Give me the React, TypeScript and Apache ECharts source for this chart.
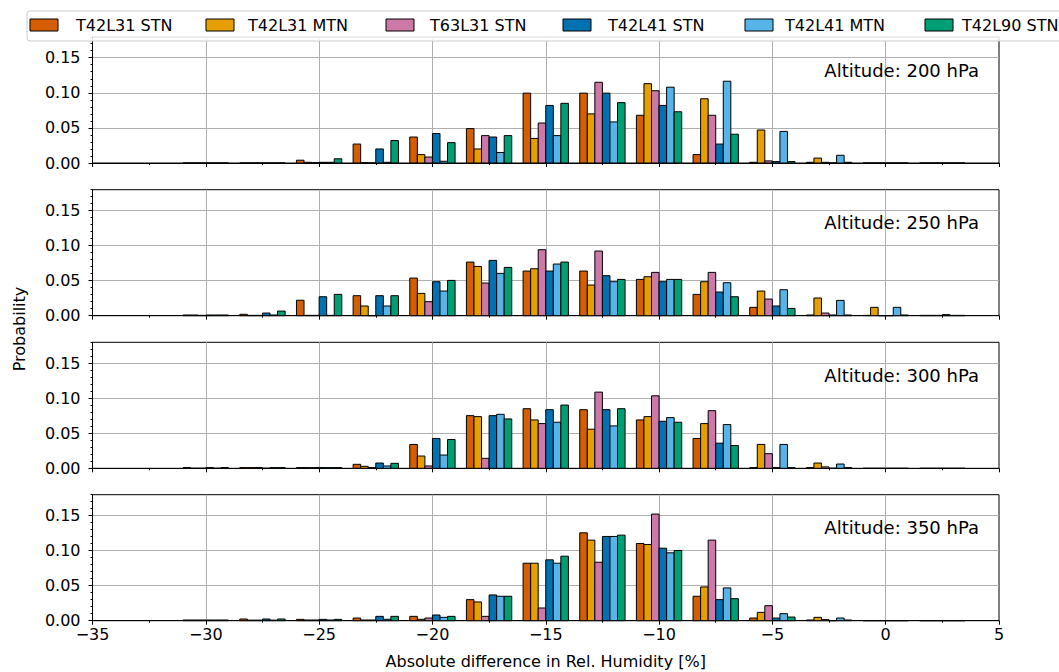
import React, { useEffect, useRef } from 'react';
import * as echarts from 'echarts';

// ---- data ----
const binCenters = [-30, -27.5, -25, -22.5, -20, -17.5, -15, -12.5, -10, -7.5, -5, -2.5, 0, 2.5];
const seriesNames = ['T42L31 STN', 'T42L31 MTN', 'T63L31 STN', 'T42L41 STN', 'T42L41 MTN', 'T42L90 STN'];
const seriesColors = ['#D55E00', '#E69F00', '#CC79A7', '#0072B2', '#56B4E9', '#009E73'];
const altitudeLabels = ['Altitude: 200 hPa', 'Altitude: 250 hPa', 'Altitude: 300 hPa', 'Altitude: 350 hPa'];
const xTickValues = [-35, -30, -25, -20, -15, -10, -5, 0, 5];
const yTickValues = [0, 0.05, 0.1, 0.15];

// 200 hPa
const p200_T42L31_STN = [0, 0, 0.004, 0.027, 0.037, 0.049, 0.0995, 0.0995, 0.068, 0.012, 0.001, 0.001, 0, 0];
const p200_T42L31_MTN = [0, 0, 0.001, 0.0005, 0.012, 0.020, 0.035, 0.070, 0.113, 0.0915, 0.047, 0.007, 0, 0];
const p200_T63L31_STN = [0, 0, 0.0005, 0, 0.0085, 0.039, 0.057, 0.115, 0.103, 0.068, 0.003, 0.001, 0, 0];
const p200_T42L41_STN = [0, 0, 0.001, 0.020, 0.042, 0.037, 0.082, 0.0995, 0.082, 0.027, 0.002, 0, 0, 0];
const p200_T42L41_MTN = [0, 0, 0.001, 0.001, 0.0025, 0.015, 0.039, 0.0585, 0.108, 0.1165, 0.045, 0.011, 0, 0];
const p200_T42L90_STN = [0, 0, 0.006, 0.032, 0.029, 0.039, 0.085, 0.086, 0.073, 0.041, 0.002, 0.001, 0, 0];

// 250 hPa
const p250_T42L31_STN = [0.001, 0.002, 0.022, 0.0285, 0.0536, 0.0764, 0.0636, 0.0636, 0.0517, 0.0304, 0.0119, 0.001, 0.0005, 0.0005];
const p250_T42L31_MTN = [0.001, 0.0005, 0.0005, 0.0138, 0.0318, 0.0702, 0.0669, 0.0437, 0.0555, 0.0484, 0.0351, 0.0252, 0.0119, 0.0005];
const p250_T63L31_STN = [0.0005, 0.0005, 0.0005, 0, 0.020, 0.0465, 0.094, 0.0921, 0.0617, 0.0617, 0.0237, 0.0038, 0, 0.0005];
const p250_T42L41_STN = [0.001, 0.0038, 0.027, 0.0285, 0.0484, 0.0788, 0.0636, 0.057, 0.0484, 0.0337, 0.0138, 0.001, 0, 0.0015];
const p250_T42L41_MTN = [0.001, 0.001, 0.0005, 0.0138, 0.0351, 0.0603, 0.0736, 0.0484, 0.0517, 0.047, 0.037, 0.0218, 0.0119, 0.0005];
const p250_T42L90_STN = [0.001, 0.0066, 0.0304, 0.0285, 0.0503, 0.0688, 0.0764, 0.0517, 0.0517, 0.027, 0.0104, 0.001, 0.001, 0.0005];

// 300 hPa
const p300_T42L31_STN = [0.001, 0.001, 0.001, 0.0057, 0.034, 0.075, 0.0849, 0.0835, 0.0689, 0.0425, 0.001, 0.001, 0, 0];
const p300_T42L31_MTN = [0, 0.001, 0.001, 0.0028, 0.0175, 0.0736, 0.0689, 0.0557, 0.0736, 0.0637, 0.034, 0.0075, 0, 0];
const p300_T63L31_STN = [0, 0.001, 0.001, 0.001, 0.0033, 0.0142, 0.0637, 0.1085, 0.1033, 0.0821, 0.0208, 0.002, 0, 0];
const p300_T42L41_STN = [0.001, 0, 0.001, 0.0075, 0.0425, 0.075, 0.0835, 0.0835, 0.067, 0.0358, 0.001, 0, 0, 0];
const p300_T42L41_MTN = [0, 0.001, 0.001, 0.0033, 0.0189, 0.0769, 0.0656, 0.0604, 0.0722, 0.0623, 0.034, 0.0061, 0, 0];
const p300_T42L90_STN = [0.001, 0.001, 0.001, 0.0071, 0.041, 0.0703, 0.0901, 0.0849, 0.0656, 0.0325, 0.001, 0.001, 0, 0];

// 350 hPa
const p350_T42L31_STN = [0.001, 0.0024, 0.0019, 0.0038, 0.0062, 0.030, 0.0819, 0.1252, 0.110, 0.0348, 0.0038, 0.001, 0, 0];
const p350_T42L31_MTN = [0.001, 0.0008, 0.001, 0.001, 0.002, 0.0267, 0.0819, 0.1148, 0.1086, 0.0481, 0.0119, 0.0048, 0, 0];
const p350_T63L31_STN = [0.001, 0.0008, 0.001, 0.001, 0.0038, 0.0062, 0.0181, 0.0833, 0.1519, 0.1148, 0.0214, 0.0015, 0, 0];
const p350_T42L41_STN = [0.001, 0.0024, 0.0019, 0.0062, 0.0081, 0.0367, 0.0867, 0.120, 0.1033, 0.030, 0.0038, 0, 0, 0];
const p350_T42L41_MTN = [0.001, 0.0008, 0.001, 0.002, 0.0048, 0.0348, 0.0819, 0.120, 0.0967, 0.0467, 0.010, 0.0038, 0, 0];
const p350_T42L90_STN = [0.001, 0.0024, 0.0019, 0.0062, 0.0062, 0.0348, 0.0919, 0.1219, 0.100, 0.0314, 0.0052, 0.001, 0, 0];

const panelData = [
  [p200_T42L31_STN, p200_T42L31_MTN, p200_T63L31_STN, p200_T42L41_STN, p200_T42L41_MTN, p200_T42L90_STN],
  [p250_T42L31_STN, p250_T42L31_MTN, p250_T63L31_STN, p250_T42L41_STN, p250_T42L41_MTN, p250_T42L90_STN],
  [p300_T42L31_STN, p300_T42L31_MTN, p300_T63L31_STN, p300_T42L41_STN, p300_T42L41_MTN, p300_T42L90_STN],
  [p350_T42L31_STN, p350_T42L31_MTN, p350_T63L31_STN, p350_T42L41_STN, p350_T42L41_MTN, p350_T42L90_STN],
];

// ---- layout ----
const BIN_WIDTH = 2.5;
const RWIDTH = 0.8;
const X_MIN = -35;
const X_MAX = 5;
const Y_MAX = 0.1795;
const GRID_LEFT = 92.5;
const GRID_WIDTH = 906.5;
const GRID_HEIGHT = 126;
const panelTops = [37, 189.7, 342.3, 494.7];
const FONT = 'DejaVu Sans';
const FS = 16;
const legendPatchX = [30, 206, 386, 563, 745, 925];
const legendTextX = [76, 248, 430, 608, 785, 962];

const minus = (v: number) => (v < 0 ? '\u2212' + Math.abs(v) : String(v));

export default function App() {
  const ref = useRef<HTMLDivElement>(null);

  useEffect(() => {
    if (!ref.current) return;
    const chart = echarts.init(ref.current, undefined, { renderer: 'svg' });

    const grids = panelTops.map((t) => ({
      left: GRID_LEFT,
      top: t,
      width: GRID_WIDTH,
      height: GRID_HEIGHT,
      show: true,
      borderColor: '#000',
      borderWidth: 1,
      backgroundColor: 'transparent',
      containLabel: false,
    }));

    const gridLine = { color: '#b0b0b0', width: 1 };

    const xAxes = panelTops.map((_, i) => ({
      type: 'value',
      gridIndex: i,
      min: X_MIN,
      max: X_MAX,
      interval: 5,
      axisLine: { show: true, onZero: false, lineStyle: { color: '#000', width: 1 } },
      axisTick: { show: true, length: 4, lineStyle: { color: '#000', width: 1 } },
      minorTick: { show: true, splitNumber: 2, length: 2, lineStyle: { color: '#000', width: 1 } },
      axisLabel: {
        show: i === 3,
        formatter: (v: number) => (xTickValues.includes(v) ? minus(v) : ''),
        color: '#000',
        fontSize: FS,
        fontFamily: FONT,
        margin: 6,
      },
      splitLine: { show: true, showMinLine: false, showMaxLine: false, lineStyle: gridLine },
      name: i === 3 ? 'Absolute difference in Rel. Humidity [%]' : '',
      nameLocation: 'middle',
      nameGap: 33,
      nameTextStyle: { color: '#000', fontSize: FS, fontFamily: FONT },
    }));

    const yAxes: any[] = panelTops.map((_, i) => ({
      type: 'value',
      gridIndex: i,
      min: 0,
      max: Y_MAX,
      interval: 0.05,
      position: 'left',
      axisLine: { show: true, onZero: false, lineStyle: { color: '#000', width: 1 } },
      axisTick: { show: true, length: 4, lineStyle: { color: '#000', width: 1 } },
      axisLabel: {
        showMaxLabel: false,
        formatter: (v: number) => (yTickValues.some((t) => Math.abs(t - v) < 1e-9) ? v.toFixed(2) : ''),
        color: '#000',
        fontSize: FS,
        fontFamily: FONT,
        margin: 12,
      },
      splitLine: { show: true, showMinLine: false, showMaxLine: false, lineStyle: gridLine },
    }));
    // minor y ticks every 0.01
    panelTops.forEach((_, i) => {
      yAxes.push({
        type: 'value',
        gridIndex: i,
        min: 0,
        max: Y_MAX,
        interval: 0.01,
        position: 'left',
        axisLine: { show: false, onZero: false },
        axisTick: { show: true, length: 2, lineStyle: { color: '#000', width: 1 } },
        axisLabel: { show: false },
        splitLine: { show: false },
      });
    });

    const series: any[] = [];
    panelData.forEach((arrs, i) => {
      arrs.forEach((vals, k) => {
        const color = seriesColors[k];
        series.push({
          type: 'custom',
          name: seriesNames[k],
          xAxisIndex: i,
          yAxisIndex: i,
          data: binCenters.map((c, j) => [c, vals[j]]),
          encode: { x: 0, y: 1 },
          renderItem: (_params: any, api: any) => {
            const c = api.value(0);
            const v = api.value(1);
            const w = (BIN_WIDTH * RWIDTH) / seriesNames.length;
            const x0 = c - (BIN_WIDTH * RWIDTH) / 2 + k * w;
            const p0 = api.coord([x0, v]);
            const p1 = api.coord([x0 + w, 0]);
            return {
              type: 'rect',
              shape: { x: p0[0], y: p0[1], width: p1[0] - p0[0], height: p1[1] - p0[1] },
              style: { fill: color, stroke: '#000', lineWidth: 1 },
            };
          },
        });
      });
    });

    const graphic: any[] = [];
    altitudeLabels.forEach((txt, i) => {
      graphic.push({
        type: 'text',
        x: 979,
        y: panelTops[i] + 33,
        style: { text: txt, align: 'right', verticalAlign: 'middle', fontSize: 18, fontFamily: FONT, fill: '#000' },
        z: 10,
      });
    });
    graphic.push({
      type: 'text',
      x: 19,
      y: 329,
      rotation: Math.PI / 2,
      style: { text: 'Probability', align: 'center', verticalAlign: 'middle', fontSize: FS, fontFamily: FONT, fill: '#000' },
    });
    graphic.push({
      type: 'rect',
      shape: { x: 27, y: 11, width: 1060, height: 30, r: 3 },
      style: { fill: 'rgba(255,255,255,0.85)', stroke: '#cccccc', lineWidth: 1 },
      z: 20,
    });
    seriesNames.forEach((nm, k) => {
      graphic.push({
        type: 'rect',
        shape: { x: legendPatchX[k], y: 19, width: 28, height: 12 },
        style: { fill: seriesColors[k], stroke: '#000', lineWidth: 1 },
        z: 21,
      });
      graphic.push({
        type: 'text',
        x: legendTextX[k],
        y: 25.5,
        style: { text: nm, align: 'left', verticalAlign: 'middle', fontSize: FS, fontFamily: FONT, fill: '#000' },
        z: 21,
      });
    });

    chart.setOption({
      animation: false,
      backgroundColor: '#fff',
      grid: grids,
      xAxis: xAxes,
      yAxis: yAxes,
      series,
      graphic,
    });

    return () => chart.dispose();
  }, []);

  return <div ref={ref} style={{ position: 'absolute', left: 0, top: 0, width: 1059, height: 672 }} />;
}
